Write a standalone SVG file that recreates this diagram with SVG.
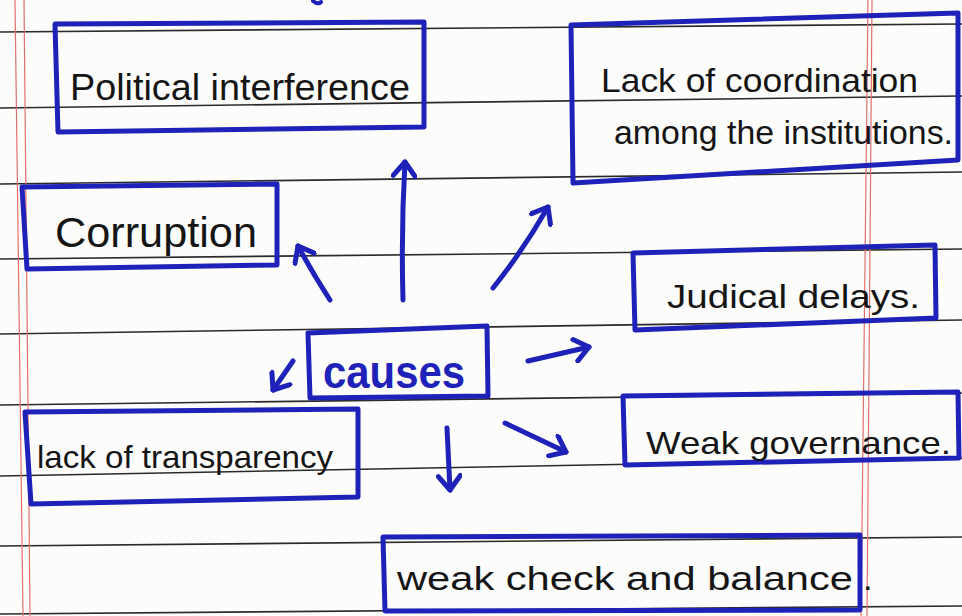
<svg xmlns="http://www.w3.org/2000/svg" width="962" height="616" viewBox="0 0 962 616">
<defs>
<style>
.rule{stroke:#2a2a2a;stroke-width:1.6;fill:none}
.margin{stroke:#e07070;stroke-width:1.2;fill:none}
.box{fill:none;stroke:#1f22b8;stroke-width:5;stroke-linejoin:round;stroke-linecap:round}
.txt{font-family:"Liberation Sans","DejaVu Sans",sans-serif;fill:#151515}
.cause{font-family:"Liberation Sans","DejaVu Sans",sans-serif;font-weight:bold;fill:#1f22b8}
.arrow{fill:none;stroke:#1f22b8;stroke-width:5;stroke-linecap:round;stroke-linejoin:round}
</style>
<marker id="head" markerUnits="userSpaceOnUse" viewBox="0 0 20 26" refX="17" refY="13" markerWidth="20" markerHeight="26" orient="auto">
<path d="M3,2 L17,13 L3,24" fill="none" stroke="#1f22b8" stroke-width="5" stroke-linecap="round" stroke-linejoin="round"/>
</marker>
</defs>
<rect width="962" height="616" fill="#fcfcfb"/>
<g id="paper">
<path class="rule" d="M0,32 L962,24"/>
<path class="rule" d="M0,108 L962,96"/>
<path class="rule" d="M0,184 L962,172"/>
<path class="rule" d="M0,259 L962,249"/>
<path class="rule" d="M0,334 L962,320"/>
<path class="rule" d="M0,405 L962,393"/>
<path class="rule" d="M0,476 L962,458"/>
<path class="rule" d="M0,546 L962,537"/>
<path class="rule" d="M0,614 L962,606"/>
<path class="margin" d="M15,0 L23,616"/>
<path class="margin" d="M24,0 L30,616"/>
<path class="margin" d="M868,0 L861,616"/>
<path class="margin" d="M872,0 L867,616"/>
<path d="M313,1 Q318,5 321,2" fill="none" stroke="#1f22b8" stroke-width="4" stroke-linecap="round"/>
</g>
<g id="connectors">
<path class="arrow" marker-end="url(#head)" d="M330,300 Q312,272 298,246"/>
<path class="arrow" marker-end="url(#head)" d="M403,300 Q401,230 405,162"/>
<path class="arrow" marker-end="url(#head)" d="M493,288 Q522,252 548,207"/>
<path class="arrow" marker-end="url(#head)" d="M528,361 L589,347"/>
<path class="arrow" marker-end="url(#head)" d="M293,361 L273,390"/>
<path class="arrow" marker-end="url(#head)" d="M447,428 L450,490"/>
<path class="arrow" marker-end="url(#head)" d="M505,423 L566,452"/>
</g>
<g id="causes">
<path class="box" d="M308,333 L487,326 L488,396 L310,398 Z"/>
<text class="cause" x="323" y="388" font-size="46" textLength="142" lengthAdjust="spacingAndGlyphs">causes</text>
</g>
<g id="political">
<path class="box" d="M55,24 L424,22 L424,127 L58,132 Z"/>
<text class="txt" x="70" y="100" font-size="36" textLength="340" lengthAdjust="spacingAndGlyphs">Political interference</text>
</g>
<g id="corruption">
<path class="box" d="M22,187 L277,184 L277,265 L27,269 Z"/>
<text class="txt" x="55" y="247" font-size="42" textLength="202" lengthAdjust="spacingAndGlyphs">Corruption</text>
</g>
<g id="coordination">
<path class="box" d="M571,25 L958,13 L958,160 L573,183 Z"/>
<text class="txt" x="601" y="92" font-size="34" textLength="317" lengthAdjust="spacingAndGlyphs">Lack of coordination</text>
<text class="txt" x="614" y="144" font-size="34" textLength="339" lengthAdjust="spacingAndGlyphs">among the institutions.</text>
</g>
<g id="judical">
<path class="box" d="M633,253 L935,245 L936,318 L635,330 Z"/>
<text class="txt" x="667" y="308" font-size="34" textLength="253" lengthAdjust="spacingAndGlyphs">Judical delays.</text>
</g>
<g id="transparency">
<path class="box" d="M25,412 L358,409 L358,497 L31,504 Z"/>
<text class="txt" x="37" y="468" font-size="32" textLength="296" lengthAdjust="spacingAndGlyphs">lack of transparency</text>
</g>
<g id="governance">
<path class="box" d="M623,396 L958,392 L959,458 L625,465 Z"/>
<text class="txt" x="646" y="454" font-size="32" textLength="305" lengthAdjust="spacingAndGlyphs">Weak governance.</text>
</g>
<g id="checks">
<path class="box" d="M383,537 L860,535 L860,610 L385,611 Z"/>
<text class="txt" x="397" y="590" font-size="34" textLength="456" lengthAdjust="spacingAndGlyphs">weak check and balance</text>
<text class="txt" x="863" y="590" font-size="34">.</text>
</g>
</svg>
